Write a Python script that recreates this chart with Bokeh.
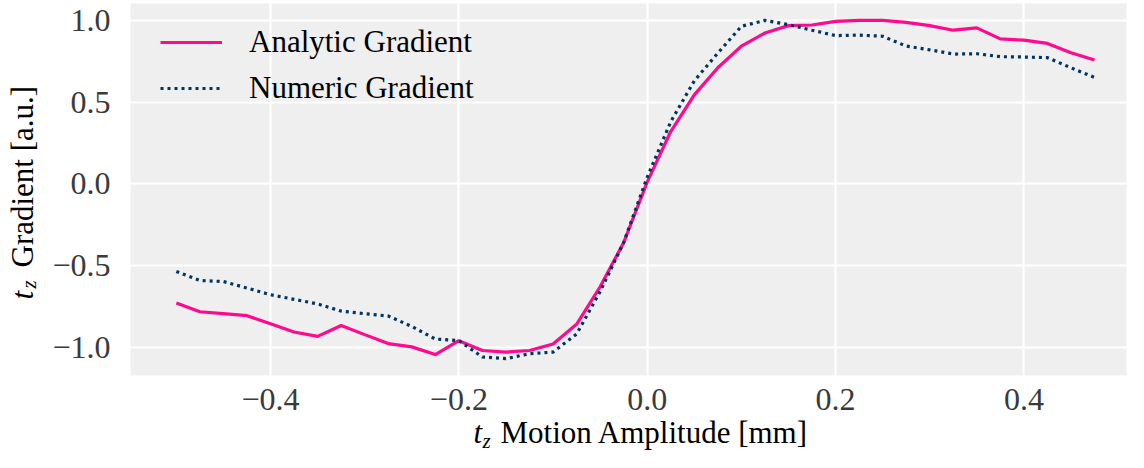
import math
from bokeh.plotting import figure
from bokeh.models import (Range1d, FixedTicker, CustomJSTickFormatter, Legend, LegendItem,
                          Label, BoxAnnotation)
from bokeh.embed import file_html
from bokeh.resources import INLINE

# ---- data ----
amplitude = [-0.5, -0.475, -0.45, -0.425, -0.4, -0.375, -0.35, -0.325, -0.3, -0.275,
             -0.25, -0.225, -0.2, -0.175, -0.15, -0.125, -0.1, -0.075, -0.05, -0.025,
             0.0, 0.025, 0.05, 0.075, 0.1, 0.125, 0.15, 0.175, 0.2, 0.225,
             0.25, 0.275, 0.3, 0.325, 0.35, 0.375, 0.4, 0.425, 0.45, 0.475]
analytic = [-0.729, -0.783, -0.795, -0.807, -0.857, -0.907, -0.934, -0.867, -0.923, -0.978,
            -0.998, -1.045, -0.96, -1.02, -1.03, -1.02, -0.98, -0.86, -0.63, -0.36,
            0.01, 0.32, 0.544, 0.71, 0.843, 0.923, 0.968, 0.972, 0.994, 1.0,
            1.0, 0.988, 0.968, 0.94, 0.954, 0.887, 0.879, 0.859, 0.802, 0.758]
numeric = [-0.536, -0.592, -0.598, -0.638, -0.679, -0.707, -0.735, -0.779, -0.795, -0.809,
           -0.873, -0.95, -0.96, -1.06, -1.07, -1.04, -1.03, -0.92, -0.66, -0.36,
           0.04, 0.38, 0.63, 0.80, 0.964, 1.0, 0.974, 0.94, 0.907, 0.91,
           0.903, 0.843, 0.82, 0.794, 0.796, 0.778, 0.776, 0.772, 0.71, 0.651]
x_ticks = [-0.4, -0.2, 0.0, 0.2, 0.4]
y_ticks = [-1.0, -0.5, 0.0, 0.5, 1.0]
series_names = ["Analytic Gradient", "Numeric Gradient"]
x_label_parts = ["t", "z", "Motion Amplitude [mm]"]
y_label_parts = ["t", "z", "Gradient [a.u.]"]

FONT = "Liberation Serif"
PINK = "#FF0A8C"
NAVY = "#003560"

W, H = 1128, 452
# plotting area (grey box) limits in data units
X_LO, X_HI = -0.5487, 0.509
Y_LO, Y_HI = -1.1735, 1.1035

# the frame covers the whole canvas; the axes sit at fixed data positions
p = figure(width=W, height=H, output_backend="svg", toolbar_location=None,
           x_range=Range1d(-0.68673, 0.51110), y_range=Range1d(-1.6444, 1.1218),
           min_border_left=0, min_border_right=0, min_border_top=0, min_border_bottom=0)
p.background_fill_color = "white"
p.border_fill_color = "white"
p.outline_line_color = None

box = BoxAnnotation(left=X_LO, right=X_HI, bottom=Y_LO, top=Y_HI,
                    fill_color="#EFEFEF", fill_alpha=1.0, line_color=None, level="image")
p.add_layout(box)

for ax in (p.xaxis[0], p.yaxis[0]):
    ax.axis_line_color = None
    ax.major_tick_line_color = None
    ax.minor_tick_line_color = None
    ax.major_tick_out = 0
    ax.major_tick_in = 0
    ax.minor_tick_out = 0
    ax.minor_tick_in = 0
    ax.major_label_text_font = FONT
    ax.major_label_text_font_size = "32px"
    ax.major_label_text_color = "#3A3A3A"
    ax.formatter = CustomJSTickFormatter(code="""
        const s = Math.abs(tick).toFixed(1);
        return (tick < -1e-9 ? '\u2212' : '') + s;
    """)
p.xaxis[0].ticker = FixedTicker(ticks=x_ticks)
p.yaxis[0].ticker = FixedTicker(ticks=y_ticks)
p.xaxis[0].fixed_location = Y_LO
p.yaxis[0].fixed_location = X_LO
p.xaxis[0].major_label_standoff = 13
p.yaxis[0].major_label_standoff = 20

p.grid.grid_line_color = "white"
p.grid.grid_line_width = 2.2
p.xgrid[0].ticker = FixedTicker(ticks=x_ticks)
p.ygrid[0].ticker = FixedTicker(ticks=y_ticks)

r1 = p.line(amplitude, analytic, line_color=PINK, line_width=3.2)
r2 = p.line(amplitude, numeric, line_color=NAVY, line_width=3.2, line_dash="3 4")

legend = Legend(items=[LegendItem(label=series_names[0], renderers=[r1]),
                       LegendItem(label=series_names[1], renderers=[r2])],
                location=(160, H - 24 - 82), orientation="vertical")
legend.background_fill_alpha = 0
legend.border_line_color = None
legend.label_text_font = FONT
legend.label_text_font_size = "31px"
legend.label_text_color = "black"
legend.glyph_width = 62
legend.glyph_height = 36
legend.label_height = 36
legend.label_standoff = 27
legend.spacing = 10
legend.padding = 0
legend.margin = 0
p.add_layout(legend)

# axis labels built from text pieces (italic t with subscript z);
# (cx, cy) = canvas position of the text's left end and vertical middle
def lab(cx, cy, text, size, italic=False, angle=0.0):
    p.add_layout(Label(x=cx, y=H - cy, x_units="screen", y_units="screen", text=text,
                       text_font=FONT, text_font_size=size,
                       text_font_style="italic" if italic else "normal",
                       text_color="black", text_align="left", text_baseline="middle",
                       angle=angle))

# x label
lab(473, 431.5, x_label_parts[0], "31px", italic=True)
lab(482, 440.0, x_label_parts[1], "21px", italic=True)
lab(500, 431.5, x_label_parts[2], "31px")
# y label (rotated; cx is the middle of the text line)
lab(21.5, 299, y_label_parts[0], "31px", italic=True, angle=math.pi / 2)
lab(28.5, 288, y_label_parts[1], "21px", italic=True, angle=math.pi / 2)
lab(21.5, 267, y_label_parts[2], "31px", angle=math.pi / 2)

open("out.html", "w").write(file_html(p, INLINE))
